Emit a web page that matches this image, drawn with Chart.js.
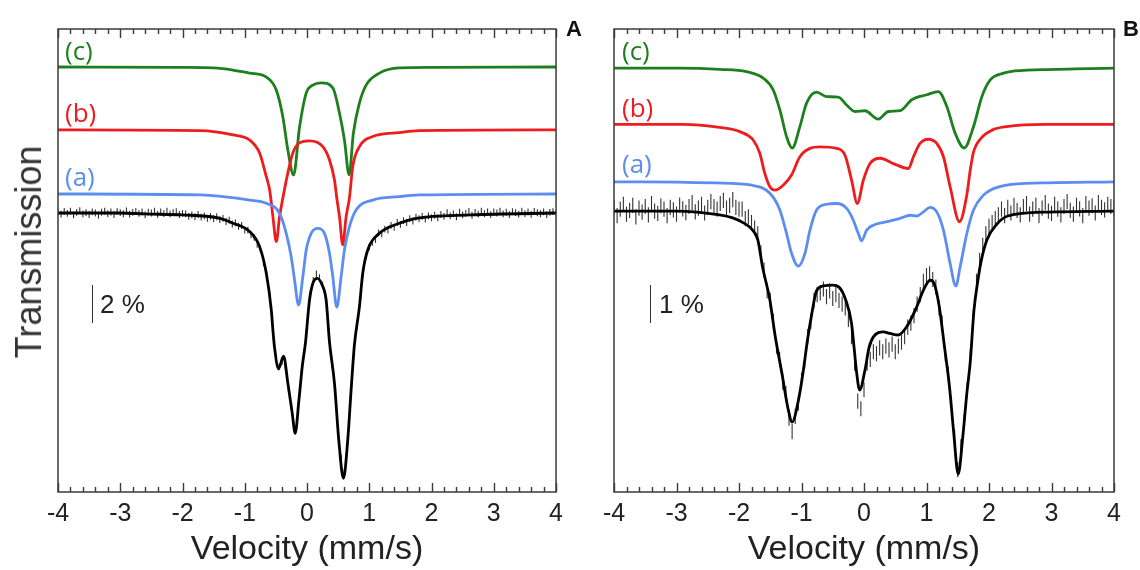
<!DOCTYPE html>
<html><head><meta charset="utf-8">
<script src="https://cdn.jsdelivr.net/npm/chart.js@4.4.1/dist/chart.umd.min.js"></script>
<style>
html,body{margin:0;padding:0;background:#fff;}
#wrap{position:relative;width:1140px;height:570px;overflow:hidden;font-family:"Liberation Sans",Arial,sans-serif;}
canvas{position:absolute;top:0;}
.lbl{position:absolute;white-space:nowrap;line-height:1;}
.cmp{font-family:"Open Sans",sans-serif;font-size:26px;}
.bar{position:absolute;width:0;height:38px;border-left:1.5px solid #333;top:285px;}
.pct{position:absolute;font-size:26px;color:#222;top:291px;line-height:1;}
.pan{position:absolute;font-weight:bold;font-size:22px;color:#111;top:18px;line-height:1;}
</style></head><body>
<div id="wrap">
<canvas id="cA" width="570" height="570" style="left:0;width:570px;height:570px"></canvas>
<canvas id="cB" width="570" height="570" style="left:570px;width:570px;height:570px"></canvas>
<div class="lbl" style="left:29px;top:252px;transform:translate(-50%,-50%) rotate(-90deg);font-size:36px;color:#333;">Transmission</div>
<div class="lbl cmp" style="left:65px;top:37px;color:#1d7f1d">(c)</div>
<div class="lbl cmp" style="left:65px;top:99px;color:#ee1c1c">(b)</div>
<div class="lbl cmp" style="left:65px;top:163px;color:#5b8ef0">(a)</div>
<div class="lbl cmp" style="left:622px;top:37px;color:#1d7f1d">(c)</div>
<div class="lbl cmp" style="left:622px;top:94px;color:#ee1c1c">(b)</div>
<div class="lbl cmp" style="left:622px;top:150px;color:#5b8ef0">(a)</div>
<div class="bar" style="left:92px"></div><div class="pct" style="left:100px">2 %</div>
<div class="bar" style="left:650px"></div><div class="pct" style="left:659px">1 %</div>
<div class="pan" style="left:566px">A</div>
<div class="pan" style="left:1123px">B</div>
</div>
<script>
// ---------- tick labels ----------
const tickValues = [-4,-3,-2,-1,0,1,2,3,4];
const tickLabels = ['-4','-3','-2','-1','0','1','2','3','4'];

// ---------- measured channels (mm/s) ----------
const channelVel = Array.from({length:161},(_,i)=>Math.round((-4+0.05*i)*100)/100);

// ---------- Panel A ----------
const dataA = [0.05,-0.06,0.08,-0.02,0.10,-0.10,0.03,0.12,-0.05,0.02,
 -0.08,0.06,0.00,-0.12,0.04,0.09,-0.03,0.05,-0.09,0.07,
 0.02,-0.04,0.11,-0.06,0.03,0.08,-0.02,0.06,-0.10,0.04,
 0.00,0.09,-0.07,0.05,-0.03,0.10,-0.05,0.02,0.07,-0.08,
 -0.02,
 -0.05,-0.18,-0.10,-0.20,-0.08,-0.22,-0.15,-0.28,-0.18,-0.30,
 -0.20,-0.35,-0.28,-0.45,-0.38,-0.58,-0.52,-0.70,-0.66,-0.90,
 -0.90,-1.15,-1.28,-1.65,-1.90,-2.62,-3.20,-4.40,-6.25,-7.60,
 -8.10,-7.80,-8.05,-9.20,-10.20,-11.45,-10.30,-8.90,-7.35,-5.90,
 -4.35,-3.55,-3.20,-3.40,-3.80,-4.55,-6.20,-7.95,-9.30,-11.60,
 -12.90,-13.60,-12.00,-9.80,-7.40,-5.95,-4.60,-3.20,-2.25,-1.80,
 -1.55,-1.40,-1.05,-1.10,-0.85,-0.90,-0.65,-0.75,-0.50,-0.60,
 -0.40,-0.50,-0.30,-0.42,-0.22,-0.30,-0.18,-0.32,-0.15,-0.25,
 -0.12,-0.25,-0.08,-0.18,0.02,-0.15,-0.05,-0.20,0.04,-0.10,
 -0.02,0.08,-0.12,0.03,-0.06,0.10,-0.04,0.05,-0.09,0.06,
 0.00,0.09,-0.05,0.04,-0.08,0.07,0.02,-0.06,0.10,-0.03,
 0.05,-0.07,0.08,0.01,-0.04,0.06,-0.09,0.03,0.07,-0.02];
const errA = 0.18;

const velA_fit = [-4,-3,-2.6,-2.0,-1.43,-1.19,-0.922,-0.762,-0.654,-0.574,-0.548,-0.521,-0.457,-0.377,-0.308,-0.238,-0.19,-0.13,-0.077,-0.024,0.04,0.094,0.163,0.243,0.307,0.361,0.441,0.51,0.585,0.654,0.708,0.761,0.842,0.895,0.975,1.162,1.483,1.75,2.65,4];
const fitA = [0,0,-0.05,-0.1,-0.26,-0.54,-0.98,-1.77,-3.17,-5.1,-6.16,-7.1,-8.2,-7.53,-8.95,-10.53,-11.59,-9.84,-8.09,-6.79,-4.58,-3.7,-3.44,-3.79,-4.58,-6.79,-8.96,-11.95,-13.96,-11.95,-9.32,-6.95,-4.93,-3.17,-1.95,-1.07,-0.54,-0.28,-0.1,0];

const velA_a = [-4,-1.72,-0.922,-0.654,-0.441,-0.334,-0.254,-0.2,-0.136,-0.067,-0.013,0.067,0.173,0.28,0.361,0.414,0.478,0.548,0.601,0.681,0.788,1.055,1.483,1.8,4];
const compA_a = [0,-0.05,-0.32,-0.49,-1.02,-2.07,-3.3,-4.53,-5.84,-4.35,-2.95,-2.07,-1.81,-2.07,-3.12,-4.35,-5.96,-4.35,-2.95,-1.72,-0.84,-0.32,-0.14,-0.05,0];
const velA_b = [-4,-1.723,-1.19,-0.922,-0.762,-0.654,-0.6,-0.548,-0.494,-0.441,-0.388,-0.308,-0.228,-0.12,0.04,0.254,0.361,0.441,0.478,0.521,0.574,0.628,0.681,0.734,0.842,1.055,1.483,1.8,4];
const compA_b = [0,-0.04,-0.26,-0.53,-1.21,-2.46,-3.16,-4.56,-5.88,-4.56,-3.58,-2.26,-1.21,-0.68,-0.58,-0.88,-1.58,-2.63,-3.58,-4.56,-6.05,-4.56,-3.58,-1.93,-0.88,-0.35,-0.14,-0.04,0];
const velA_c = [-4,-2,-1.5,-1.19,-0.92,-0.654,-0.494,-0.388,-0.308,-0.216,-0.12,-0.013,0.093,0.227,0.414,0.521,0.601,0.676,0.745,0.842,0.949,1.162,1.483,2,4];
const compA_c = [0,-0.02,-0.05,-0.16,-0.32,-0.53,-1.21,-2.63,-4.37,-5.68,-3.16,-1.37,-0.95,-0.83,-1.1,-2.42,-3.84,-5.68,-3.47,-1.89,-0.95,-0.32,-0.05,-0.02,0];
const offsetA = [1.0, 4.37, 7.68];   // (a), (b), (c)

// ---------- Panel B ----------
const dataB = [0.10,-0.12,0.05,0.18,-0.08,0.02,0.15,-0.15,0.08,-0.03,
 0.12,-0.10,0.20,0.00,-0.06,0.14,0.05,-0.12,0.10,0.03,
 -0.08,0.16,0.06,-0.04,0.12,0.22,-0.02,0.08,0.18,-0.05,
 0.10,0.25,0.12,0.05,0.20,0.28,0.08,0.15,0.30,0.10,
 0.05,
 0.05,-0.20,-0.15,-0.30,-0.45,-0.60,-1.10,-1.55,-2.10,-2.35,
 -2.90,-3.55,-3.90,-4.50,-4.80,-5.45,-5.80,-5.40,-5.05,-4.45,
 -3.95,-3.30,-2.90,-2.35,-2.20,-2.15,-2.05,-2.25,-2.10,-2.30,
 -2.20,-2.35,-2.45,-2.55,-2.85,-3.30,-4.00,-5.00,-5.20,-4.70,
 -4.00,-3.90,-3.70,-3.75,-3.60,-3.70,-3.55,-3.65,-3.50,-3.70,
 -3.55,-3.45,-3.30,-3.05,-2.95,-2.75,-2.45,-2.20,-1.85,-1.70,
 -1.65,-1.80,-2.00,-2.55,-2.95,-3.75,-4.30,-5.10,-5.95,-6.80,
 -6.20,-5.55,-4.70,-3.85,-2.80,-1.85,-1.30,-0.90,-0.60,-0.40,
 -0.30,-0.20,-0.10,0.05,-0.12,0.10,-0.05,0.15,0.02,-0.10,
 0.12,0.20,-0.08,0.05,0.15,-0.12,0.08,0.22,0.00,-0.06,
 0.18,0.05,-0.10,0.12,0.25,0.02,-0.08,0.15,0.06,-0.12,
 0.20,0.08,0.14,-0.05,0.22,0.10,0.03,0.18,0.12,0.06];
const errB = 0.2;

const velB_fit = [-4,-3,-2.31,-2.1,-1.95,-1.8,-1.7,-1.62,-1.51,-1.42,-1.31,-1.215,-1.15,-1.052,-0.971,-0.905,-0.835,-0.76,-0.65,-0.5,-0.4,-0.29,-0.2,-0.158,-0.118,-0.07,0.016,0.08,0.15,0.31,0.417,0.55,0.684,0.844,0.951,1.058,1.12,1.2,1.29,1.365,1.434,1.507,1.58,1.645,1.70,1.76,1.82,1.87,1.966,2.127,2.3,2.87,4];
const fitB = [0,0,-0.1,-0.18,-0.29,-0.47,-0.75,-1.5,-2.3,-3.3,-4.3,-5.2,-5.55,-5.0,-4.2,-3.4,-2.7,-2.1,-1.97,-1.95,-2.0,-2.35,-2.95,-3.6,-4.25,-4.71,-4.18,-3.6,-3.31,-3.18,-3.22,-3.26,-3.04,-2.52,-2.08,-1.82,-1.9,-2.47,-3.6,-4.58,-5.8,-6.92,-5.95,-4.8,-3.97,-2.6,-1.85,-1.35,-0.76,-0.34,-0.13,-0.03,0];

const velB_a = [-4,-3.54,-2.38,-1.795,-1.506,-1.346,-1.239,-1.159,-1.052,-0.944,-0.865,-0.759,-0.598,-0.438,-0.278,-0.171,-0.091,-0.038,0.043,0.15,0.363,0.577,0.737,0.844,0.951,1.058,1.164,1.271,1.378,1.469,1.538,1.645,1.752,1.912,2.02,2.28,2.86,4];
const compB_a = [0,0,-0.03,-0.09,-0.3,-0.74,-1.36,-1.88,-2.22,-1.88,-1.27,-0.74,-0.59,-0.57,-0.7,-1.01,-1.36,-1.55,-1.27,-1.14,-1.05,-0.96,-0.88,-0.9,-0.79,-0.67,-0.79,-1.27,-2.15,-2.74,-2.24,-1.36,-0.74,-0.35,-0.22,-0.09,-0.03,0];
const velB_b = [-4,-2.9,-2.308,-1.987,-1.774,-1.667,-1.587,-1.506,-1.426,-1.293,-1.159,-1.026,-0.865,-0.705,-0.438,-0.304,-0.198,-0.107,-0.011,0.096,0.256,0.47,0.71,0.791,0.897,1.031,1.164,1.271,1.378,1.528,1.645,1.70,1.752,1.875,2.05,2.28,2.9,4];
const compB_b = [0,0,-0.08,-0.19,-0.41,-0.76,-1.29,-1.64,-1.73,-1.6,-1.33,-0.85,-0.63,-0.59,-0.63,-0.81,-1.47,-2.08,-1.47,-1.03,-0.89,-1.03,-1.16,-0.85,-0.5,-0.39,-0.5,-0.85,-1.64,-2.56,-1.86,-1.2,-0.73,-0.36,-0.15,-0.06,0,0];
const velB_c = [-4,-2.96,-2.308,-1.88,-1.613,-1.453,-1.346,-1.239,-1.149,-1.026,-0.919,-0.759,-0.598,-0.411,-0.278,-0.144,0.016,0.229,0.39,0.577,0.764,1.004,1.191,1.325,1.458,1.603,1.752,1.886,2.02,2.234,2.34,2.86,4];
const compB_c = [0,0,-0.03,-0.09,-0.26,-0.57,-1.1,-1.8,-2.1,-1.54,-0.92,-0.63,-0.75,-0.76,-0.97,-1.14,-1.12,-1.34,-1.14,-1.12,-0.83,-0.7,-0.62,-1.01,-1.71,-2.1,-1.54,-0.75,-0.31,-0.13,-0.09,-0.04,0];
const offsetB = [0.77, 2.28, 3.76];

// ---------- styles ----------
const colA = '#5b8ef0', colB = '#ee1c1c', colC = '#1d7f1d';
const FONT = '"Liberation Sans", Arial, sans-serif';

function pts(xs, ys, off){ return xs.map((x,i)=>({x:x, y:ys[i]+(off||0)})); }
function errPts(xs, ys, e){
  const out=[];
  xs.forEach((x,i)=>{ out.push({x:x,y:ys[i]-e},{x:x,y:ys[i]+e},{x:x,y:null}); });
  return out;
}
function curve(data,color,w){
  return {data:data,borderColor:color,borderWidth:w,pointRadius:0,fill:false,cubicInterpolationMode:'monotone',spanGaps:true};
}

const frameTicks = {
  id:'frameTicks',
  afterDatasetsDraw(chart){
    const {ctx, chartArea:a, scales:{x}} = chart;
    ctx.save();
    ctx.strokeStyle='#3a3a3a';
    ctx.lineWidth=1.5;
    ctx.strokeRect(a.left, a.top, a.right-a.left, a.bottom-a.top);
    ctx.lineWidth=1.4;
    ctx.beginPath();
    for(let k=0;k<=40;k++){
      const v = -4 + k*0.2;
      const px = Math.round(x.getPixelForValue(v))+0.5;
      const len = (k%5===0)?9:5;
      ctx.moveTo(px,a.bottom); ctx.lineTo(px,a.bottom-len);
      ctx.moveTo(px,a.top); ctx.lineTo(px,a.top+len);
    }
    ctx.stroke();
    ctx.restore();
  }
};

function makeChart(id, datasets, yMin, yMax, yW, padR){
  return new Chart(document.getElementById(id), {
    type:'line',
    data:{datasets:datasets},
    options:{
      responsive:false, animation:false, devicePixelRatio:1,
      layout:{padding:{top:29,right:padR,left:0,bottom:0}},
      plugins:{legend:{display:false},tooltip:{enabled:false}},
      scales:{
        x:{type:'linear',min:-4,max:4,
           afterBuildTicks:s=>{ s.ticks = tickValues.map(v=>({value:v})); },
           ticks:{autoSkip:false,maxRotation:0,padding:7,color:'#222',font:{family:FONT,size:25},
                  callback:(v,i)=>tickLabels[i]},
           grid:{display:false,drawTicks:false}, border:{display:false},
           title:{display:true,text:'Velocity (mm/s)',color:'#222',font:{family:FONT,size:34},padding:{top:0,bottom:0}},
           afterFit:s=>{ s.height=78; }},
        y:{type:'linear',min:yMin,max:yMax,
           ticks:{display:false}, grid:{display:false,drawTicks:false}, border:{display:false},
           afterFit:s=>{ s.width=yW; }}
      }
    },
    plugins:[frameTicks]
  });
}

makeChart('cA', [
  curve(pts(velA_fit, fitA), '#000', 2.8),
  curve(pts(velA_a, compA_a, offsetA[0]), colA, 2.8),
  curve(pts(velA_b, compA_b, offsetA[1]), colB, 2.8),
  curve(pts(velA_c, compA_c, offsetA[2]), colC, 2.8),
  {data:errPts(channelVel, dataA, errA), borderColor:'#333', borderWidth:1.1, pointRadius:0, spanGaps:false, tension:0, fill:false}
], -14.68, 9.68, 58, 13);

makeChart('cB', [
  curve(pts(velB_fit, fitB), '#000', 2.8),
  curve(pts(velB_a, compB_a, offsetB[0]), colA, 2.8),
  curve(pts(velB_b, compB_b, offsetB[1]), colB, 2.8),
  curve(pts(velB_c, compB_c, offsetB[2]), colC, 2.8),
  {data:errPts(channelVel, dataB, errB), borderColor:'#333', borderWidth:1.1, pointRadius:0, spanGaps:false, tension:0, fill:false}
], -7.39, 4.79, 44, 26);
</script>
</body></html>
